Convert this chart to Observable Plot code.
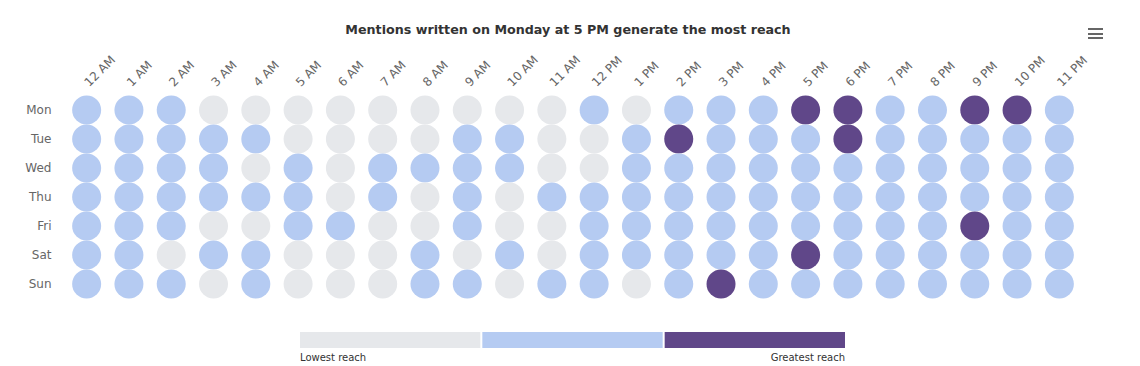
<!DOCTYPE html>
<html>
<head>
<meta charset="utf-8">
<script src="https://cdn.jsdelivr.net/npm/d3@7"></script>
<script src="https://cdn.jsdelivr.net/npm/@observablehq/plot@0.6"></script>
<style>
  html, body { margin: 0; padding: 0; background: #fff; }
  #wrap { position: relative; width: 1140px; height: 366px; overflow: hidden; font-family: "DejaVu Sans", sans-serif; }
  #title { position: absolute; left: 0; top: 20px; width: 1136px; text-align: center; font-size: 12.7px; font-weight: bold; color: #333; line-height: 20px; }
  #menu { position: absolute; left: 1088px; top: 28px; width: 15px; }
  #menu div { height: 2px; background: #666; margin-bottom: 2.6px; }
  #chart { position: absolute; left: 0; top: 50px; }
  #legend { position: absolute; left: 0; top: 328px; }
  #leglabels { position: absolute; left: 300px; top: 352px; width: 545px; display: flex; justify-content: space-between; font-size: 10px; color: #333; }
</style>
</head>
<body>
<div id="wrap">
  <div id="title">Mentions written on Monday at 5 PM generate the most reach</div>
  <div id="menu"><div></div><div></div><div></div></div>
  <div id="chart"></div>
  <div id="legend"></div>
  <div id="leglabels"><span>Lowest reach</span><span>Greatest reach</span></div>
</div>
<script>
const hours = ["12 AM","1 AM","2 AM","3 AM","4 AM","5 AM","6 AM","7 AM","8 AM","9 AM","10 AM","11 AM",
               "12 PM","1 PM","2 PM","3 PM","4 PM","5 PM","6 PM","7 PM","8 PM","9 PM","10 PM","11 PM"];
const days = ["Mon","Tue","Wed","Thu","Fri","Sat","Sun"];
const levels = ["Lowest", "Medium", "Greatest"];
const levelColors = ["#e6e8eb", "#b5cbf2", "#604789"];
// reach level per day (0 = lowest, 1 = medium, 2 = greatest), one entry per hour
const mon = [1,1,1,0,0,0,0,0,0,0,0,0, 1,0,1,1,1,2,2,1,1,2,2,1];
const tue = [1,1,1,1,1,0,0,0,0,1,1,0, 0,1,2,1,1,1,2,1,1,1,1,1];
const wed = [1,1,1,1,0,1,0,1,1,1,1,0, 0,1,1,1,1,1,1,1,1,1,1,1];
const thu = [1,1,1,1,1,1,0,1,0,1,0,1, 1,1,1,1,1,1,1,1,1,1,1,1];
const fri = [1,1,1,0,0,1,1,0,0,1,0,0, 1,1,1,1,1,1,1,1,1,2,1,1];
const sat = [1,1,0,1,1,0,0,0,1,0,1,0, 1,1,1,1,1,2,1,1,1,1,1,1];
const sun = [1,1,1,0,1,0,0,0,1,1,0,1, 1,0,1,2,1,1,1,1,1,1,1,1];

const rows = [mon, tue, wed, thu, fri, sat, sun];
const data = [];
rows.forEach((row, i) => row.forEach((v, j) => data.push({day: days[i], hour: hours[j], level: levels[v]})));

const chart = Plot.plot({
  width: 1140,
  height: 260,
  marginTop: 45,
  marginBottom: 12,
  marginLeft: 65,
  marginRight: 60,
  style: {fontFamily: "DejaVu Sans, sans-serif", fontSize: "12px", color: "#666", background: "transparent"},
  x: {type: "point", domain: hours, padding: 0.5, round: false, axis: null},
  y: {type: "point", domain: days, padding: 0.5, round: false, axis: null},
  color: {domain: levels, range: levelColors},
  marks: [
    Plot.axisX({anchor: "top", tickRotate: -45, tickSize: 0, tickPadding: 11, label: null, fill: "#666"}),
    Plot.axisY({anchor: "left", tickSize: 0, tickPadding: 14, label: null, fill: "#666"}),
    Plot.dot(data, {x: "hour", y: "day", r: 14.5, fill: "level", stroke: null})
  ]
});
document.getElementById("chart").appendChild(chart);

const legend = Plot.plot({
  width: 1140,
  height: 22,
  marginTop: 4,
  marginBottom: 2,
  marginLeft: 300,
  marginRight: 295,
  x: {domain: levels, paddingInner: 0.011, paddingOuter: 0, round: false, axis: null},
  color: {domain: levels, range: levelColors},
  marks: [
    Plot.cell(levels, {x: d => d, fill: d => d})
  ]
});
document.getElementById("legend").appendChild(legend);
</script>
</body>
</html>
